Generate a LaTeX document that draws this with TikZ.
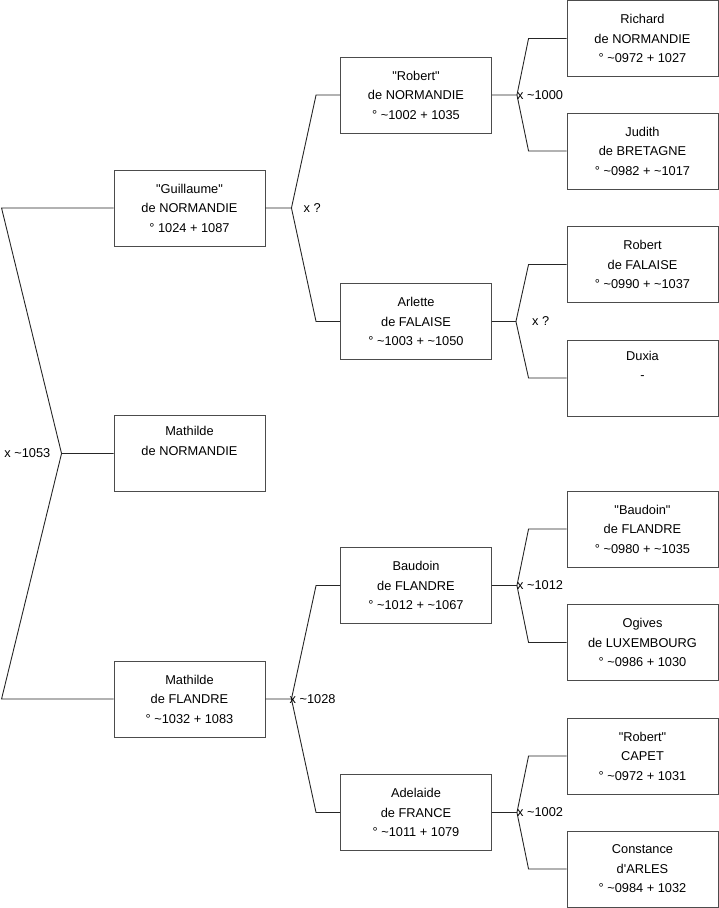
\documentclass[tikz,border=0pt]{standalone}
\usepackage{fontspec}
\setmainfont{Liberation Sans}[Ligatures=TeXOff]
\usetikzlibrary{positioning,calc}

\begin{document}
\begin{tikzpicture}[x=1pt, y=-1pt,
  person/.style={draw=black!70, line width=0.9pt, fill=white, minimum width=151pt, minimum height=76pt, align=center, inner sep=0pt, font=\fontsize{12.8}{19.5}\selectfont},
  link/.style={draw=black!85, line width=0.9pt},
  union/.style={inner sep=0pt, font=\fontsize{12.8}{15}\selectfont}
]
\useasboundingbox (0,0) rectangle (719,908);
% first column
\node[person] (guillaume) at (189.5,208) {"Guillaume"\\de NORMANDIE\\° 1024 + 1087};
\node[person] (mathildeN) at (189.5,453.5) {Mathilde\\de NORMANDIE\\\strut};
\node[person] (mathildeF) at (189.5,699) {Mathilde\\de FLANDRE\\° \textasciitilde1032 + 1083};
% second column
\node[person] (robertN) at (416,95) {"Robert"\\de NORMANDIE\\° \textasciitilde1002 + 1035};
\node[person] (arlette) at (416,321.5) {Arlette\\de FALAISE\\° \textasciitilde1003 + \textasciitilde1050};
\node[person] (baudoin) at (416,585.5) {Baudoin\\de FLANDRE\\° \textasciitilde1012 + \textasciitilde1067};
\node[person] (adelaide) at (416,812.5) {Adelaide\\de FRANCE\\° \textasciitilde1011 + 1079};
% third column
\node[person] (richard) at (642.5,38.5) {Richard\\de NORMANDIE\\° \textasciitilde0972 + 1027};
\node[person] (judith) at (642.5,151) {Judith\\de BRETAGNE\\° \textasciitilde0982 + \textasciitilde1017};
\node[person] (robertF) at (642.5,264.5) {Robert\\de FALAISE\\° \textasciitilde0990 + \textasciitilde1037};
\node[person] (duxia) at (642.5,378) {Duxia\\-\\\strut};
\node[person] (baudoinF) at (642.5,529) {"Baudoin"\\de FLANDRE\\° \textasciitilde0980 + \textasciitilde1035};
\node[person] (ogives) at (642.5,642.5) {Ogives\\de LUXEMBOURG\\° \textasciitilde0986 + 1030};
\node[person] (robertC) at (642.5,756) {"Robert"\\CAPET\\° \textasciitilde0972 + 1031};
\node[person] (constance) at (642.5,869) {Constance\\d'ARLES\\° \textasciitilde0984 + 1032};

% unions
\coordinate (jm) at ([xshift=-52pt]mathildeN.west);
\draw[link] (mathildeN.west) -- (jm) -- ([xshift=-112pt]guillaume.west) -- (guillaume.west);
\draw[link] (jm) -- ([xshift=-112pt]mathildeF.west) -- (mathildeF.west);
\node[union, left=11pt of jm] (um) {x \textasciitilde1053};

\coordinate (jg) at ([xshift=26pt]guillaume.east);
\draw[link] (guillaume.east) -- (jg) -- ([xshift=-24pt]robertN.west) -- (robertN.west);
\draw[link] (jg) -- ([xshift=-24pt]arlette.west) -- (arlette.west);
\node[union, right=12pt of jg] (ug) {x ?};

\coordinate (jf) at ([xshift=26pt]mathildeF.east);
\draw[link] (mathildeF.east) -- (jf) -- ([xshift=-24pt]baudoin.west) -- (baudoin.west);
\draw[link] (jf) -- ([xshift=-24pt]adelaide.west) -- (adelaide.west);
\node[union, right=-2pt of jf] (uf) {x \textasciitilde1028};

\coordinate (jr) at ([xshift=25pt]robertN.east);
\draw[link] (robertN.east) -- (jr) -- ([xshift=-38pt]richard.west) -- (richard.west);
\draw[link] (jr) -- ([xshift=-38pt]judith.west) -- (judith.west);
\node[union, right=0pt of jr] (ur) {x \textasciitilde1000};

\coordinate (ja) at ([xshift=24pt]arlette.east);
\draw[link] (arlette.east) -- (ja) -- ([xshift=-38pt]robertF.west) -- (robertF.west);
\draw[link] (ja) -- ([xshift=-38pt]duxia.west) -- (duxia.west);
\node[union, right=16pt of ja] (ua) {x ?};

\coordinate (jb) at ([xshift=25pt]baudoin.east);
\draw[link] (baudoin.east) -- (jb) -- ([xshift=-38pt]baudoinF.west) -- (baudoinF.west);
\draw[link] (jb) -- ([xshift=-38pt]ogives.west) -- (ogives.west);
\node[union, right=0pt of jb] (ub) {x \textasciitilde1012};

\coordinate (jd) at ([xshift=25pt]adelaide.east);
\draw[link] (adelaide.east) -- (jd) -- ([xshift=-38pt]robertC.west) -- (robertC.west);
\draw[link] (jd) -- ([xshift=-38pt]constance.west) -- (constance.west);
\node[union, right=0pt of jd] (ud) {x \textasciitilde1002};
\end{tikzpicture}
\end{document}
